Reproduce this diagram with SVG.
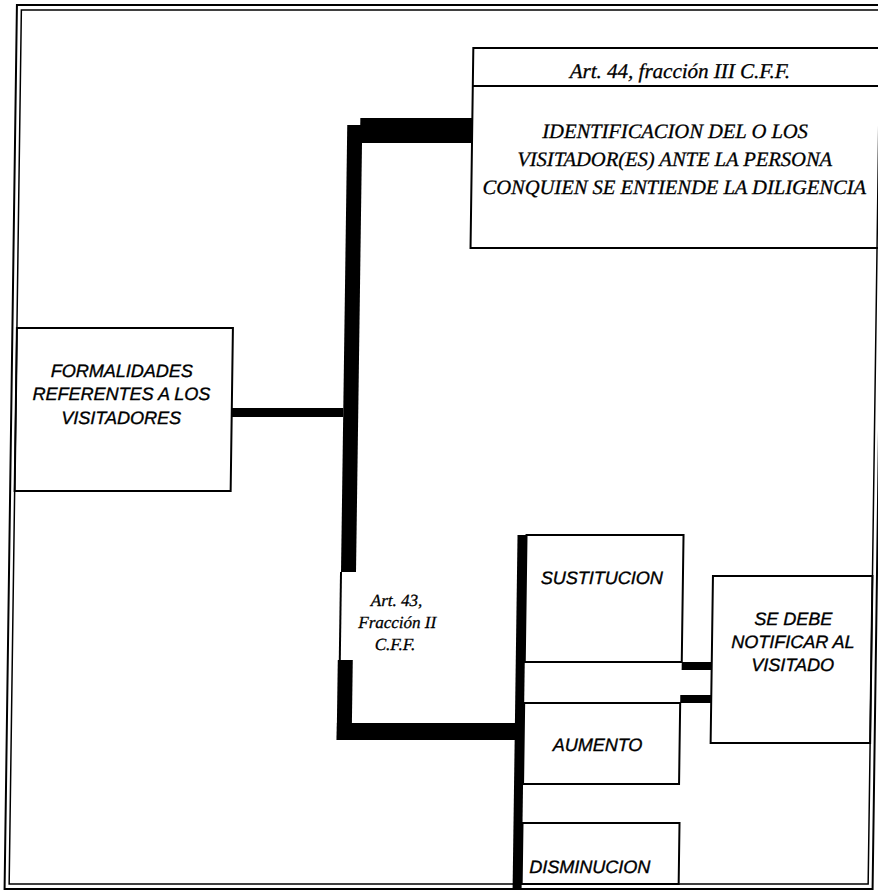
<svg xmlns="http://www.w3.org/2000/svg" width="878" height="893" viewBox="0 0 878 893">
  <style>
    .box { fill: none; stroke: #000; stroke-width: 2; }
    .frame { fill: none; stroke: #000; }
    .bar { fill: #000; }
    .thin { stroke: #000; stroke-width: 2; fill: none; }
    .sans { font-family: "Liberation Sans", Arial, sans-serif; font-style: italic; font-size: 18px; fill: #000; stroke: #000; stroke-width: 0.35; text-anchor: middle; }
    .serif { font-family: "Liberation Serif", "Times New Roman", serif; font-style: italic; fill: #000; stroke: #000; stroke-width: 0.3; text-anchor: middle; }
  </style>
  <rect width="878" height="893" fill="#fff"/>
  <!-- the whole sheet leans slightly, so everything sits in one sheared group -->
  <g transform="skewX(-0.8)">
    <g id="frame">
      <rect class="frame" x="17" y="5" width="868" height="884" stroke-width="2"/>
      <rect class="frame" x="21.5" y="10" width="859" height="874" stroke-width="1.5"/>
    </g>

    <g id="connectors">
      <!-- trunk from the left node up to the identification box -->
      <rect class="bar" x="349" y="125" width="15" height="447"/>
      <rect class="bar" x="362" y="118" width="112" height="25"/>
      <!-- branch from the left node -->
      <rect class="bar" x="237" y="408" width="112" height="9"/>
      <!-- thin edge beside the Art. 43 label -->
      <line class="thin" x1="349" y1="572" x2="349" y2="661"/>
      <!-- lower trunk to the three cases -->
      <rect class="bar" x="347" y="660" width="15" height="80"/>
      <rect class="bar" x="347" y="723" width="180" height="17"/>
      <rect class="bar" x="525" y="535" width="9" height="354"/>
      <!-- links into the notification box -->
      <rect class="bar" x="691" y="662" width="30" height="8"/>
      <rect class="bar" x="690" y="695" width="31" height="8"/>
    </g>

    <g id="formalidades">
      <rect class="box" x="21.5" y="328" width="216" height="163"/>
      <text class="sans" x="127" y="377">FORMALIDADES</text>
      <text class="sans" x="127" y="400">REFERENTES A LOS</text>
      <text class="sans" x="127" y="424">VISITADORES</text>
    </g>

    <g id="identificacion">
      <rect class="box" x="474" y="48" width="430" height="200"/>
      <line class="thin" x1="474" y1="86" x2="904" y2="86"/>
      <text class="serif" x="681" y="78" font-size="21">Art. 44, fracción III C.F.F.</text>
      <text class="serif" x="677" y="138" font-size="20.5">IDENTIFICACION DEL O LOS</text>
      <text class="serif" x="677" y="166" font-size="20.5">VISITADOR(ES) ANTE LA PERSONA</text>
      <text class="serif" x="677" y="194" font-size="20.5">CONQUIEN SE ENTIENDE LA DILIGENCIA</text>
    </g>

    <g id="art43">
      <text class="serif" x="405" y="606" font-size="17">Art. 43,</text>
      <text class="serif" x="406" y="628" font-size="17">Fracción II</text>
      <text class="serif" x="404" y="650" font-size="17">C.F.F.</text>
    </g>

    <g id="sustitucion">
      <rect class="box" x="534" y="535" width="157" height="127"/>
      <text class="sans" x="610" y="584">SUSTITUCION</text>
    </g>

    <g id="aumento">
      <rect class="box" x="534" y="703" width="156" height="81"/>
      <text class="sans" x="608" y="751">AUMENTO</text>
    </g>

    <g id="disminucion">
      <rect class="box" x="534" y="823" width="157" height="61"/>
      <text class="sans" x="602" y="873">DISMINUCION</text>
    </g>

    <g id="notificar">
      <rect class="box" x="721" y="576" width="159.5" height="167"/>
      <text class="sans" x="802" y="625">SE DEBE</text>
      <text class="sans" x="802" y="648">NOTIFICAR AL</text>
      <text class="sans" x="802" y="671">VISITADO</text>
    </g>
  </g>
</svg>
